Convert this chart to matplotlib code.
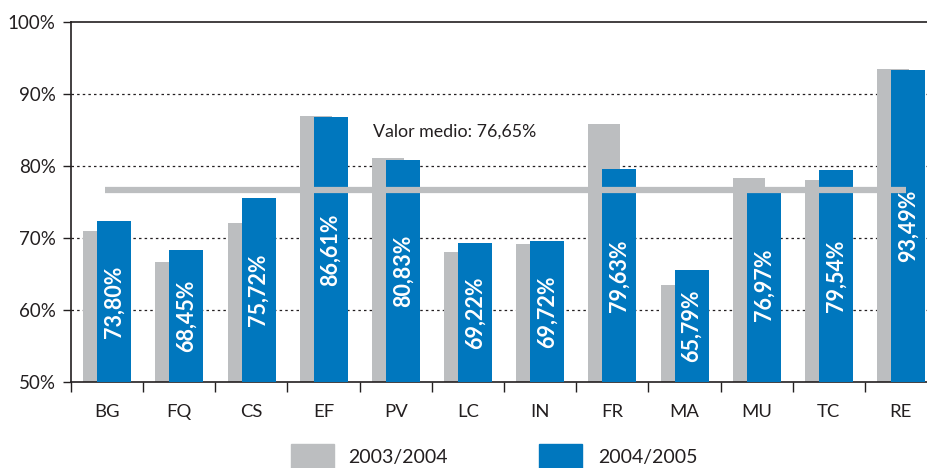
import numpy as np
import matplotlib
matplotlib.use('Agg')
import matplotlib.pyplot as plt
from matplotlib.patches import Rectangle

plt.rcParams['font.family'] = ['Lato', 'DejaVu Sans']

# Data
categories = ['BG', 'FQ', 'CS', 'EF', 'PV', 'LC', 'IN', 'FR', 'MA', 'MU', 'TC', 'RE']
values_0304 = [71.0, 66.7, 72.1, 86.9, 81.1, 68.1, 69.2, 85.8, 63.5, 78.3, 78.1, 93.5]
values_0405 = [72.4, 68.4, 75.5, 86.8, 80.8, 69.3, 69.6, 79.6, 65.5, 77.0, 79.5, 93.3]
labels_0405 = ['73,80%', '68,45%', '75,72%', '86,61%', '80,83%', '69,22%',
               '69,72%', '79,63%', '65,79%', '76,97%', '79,54%', '93,49%']
mean_value = 76.65
mean_text = 'Valor medio: 76,65%'
series_names = ['2003/2004', '2004/2005']
yticks = [50, 60, 70, 80, 90, 100]

gray = '#BCBEC0'
blue = '#0077BE'
dark = '#231F20'

fig = plt.figure(figsize=(9.27, 4.68), dpi=100)
W, H = 927, 468
# axes extends past the right edge, like the cropped original
ax = fig.add_axes([71 / W, (H - 382) / H, 866 / W, 360 / H])

x = np.arange(len(categories))
ax.bar(x - 0.33, values_0304, width=0.443, align='edge', color=gray, zorder=2)
bars = ax.bar(x - 0.136, values_0405, width=0.47, align='edge', color=blue, zorder=3)

# mean line
ax.plot([x[0] - 0.03, x[-1] + 0.065], [mean_value, mean_value], color=gray,
        linewidth=4.5, solid_capstyle='butt', zorder=4)
ax.text(3.68, 84.8, mean_text, fontsize=12.8, color=dark, va='center', ha='left', zorder=5)

# labels inside blue bars
for b, lab in zip(bars, labels_0405):
    cx = b.get_x() + b.get_width() / 2
    cy = 50 + (b.get_height() - 50) / 2
    ax.text(cx, cy, lab, rotation=90, color='white', fontsize=15.5,
            fontweight='bold', ha='center', va='center', zorder=6)

ax.set_ylim(50, 100)
ax.set_xlim(-0.5, 11.5)
ax.set_yticks(yticks)
ax.set_yticklabels([f'{v}%' for v in yticks])
for v in yticks[1:-1]:
    ax.axhline(v, color=dark, linewidth=0.9, linestyle=(0, (2, 2.5)), zorder=1)

ax.set_xticks(np.arange(-0.5, 11.5, 1))
ax.set_xticklabels([])
ax.set_xticks(x, minor=True)
ax.set_xticklabels(categories, minor=True)
ax.tick_params(axis='x', which='major', length=7, width=1, color=dark, direction='out')
ax.tick_params(axis='x', which='minor', length=0, pad=16, labelsize=13.3, labelcolor=dark)
ax.tick_params(axis='y', length=6, width=1, color=dark, pad=5, labelsize=13.5, labelcolor=dark)

for s in ['left', 'bottom', 'top']:
    ax.spines[s].set_color(dark)
    ax.spines[s].set_linewidth(1.2)
ax.spines['right'].set_visible(False)

# legend drawn by hand
fig.add_artist(Rectangle((291 / W, -0.02), 43 / W, (H - 444) / H + 0.02,
                         transform=fig.transFigure, color=gray))
fig.add_artist(Rectangle((539 / W, -0.02), 43 / W, (H - 444) / H + 0.02,
                         transform=fig.transFigure, color=blue))
fig.text(348 / W, (H - 457) / H, series_names[0], fontsize=14, color=dark, va='center')
fig.text(598 / W, (H - 457) / H, series_names[1], fontsize=14, color=dark, va='center')

fig.savefig('out.png', dpi=100)
